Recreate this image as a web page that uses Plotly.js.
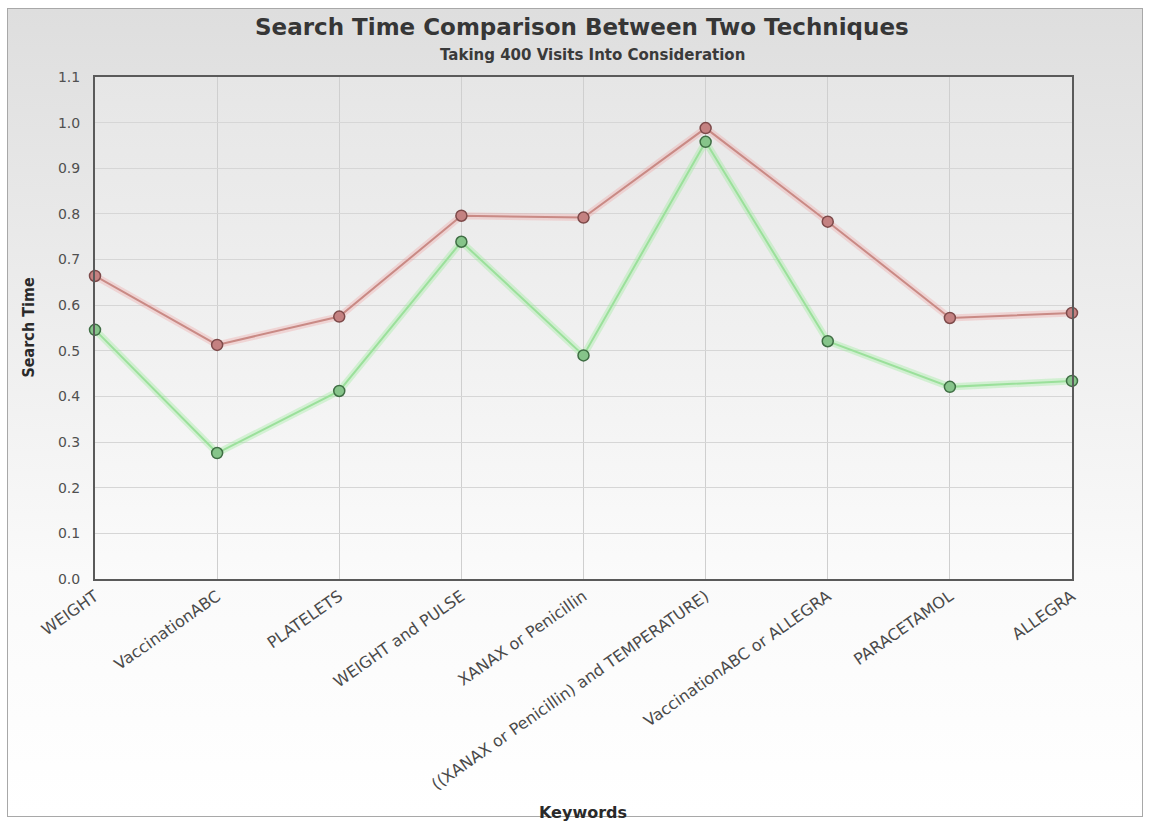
<!DOCTYPE html>
<html>
<head>
<meta charset="utf-8">
<script src="https://cdn.plot.ly/plotly-3.0.1.min.js"></script>
<style>
  html, body { margin: 0; padding: 0; background: #ffffff; }
  #wrap { position: relative; width: 1150px; height: 821px; overflow: hidden; }
  #frame { position: absolute; left: 7px; top: 8px; width: 1136px; height: 809px;
           border: 1px solid #a8a8a8; box-sizing: border-box;
           background: linear-gradient(to bottom, #dedede 0%, #ececec 35%, #fafafa 70%, #ffffff 100%); }
  #plotbg { position: absolute; left: 95px; top: 77px; width: 977px; height: 502px;
            background: linear-gradient(to bottom, #e6e6e6 0%, #f0f0f0 50%, #fbfbfb 100%); }
  #chart { position: absolute; left: 0; top: 0; width: 1150px; height: 821px; }
</style>
</head>
<body>
<div id="wrap">
  <div id="frame"></div>
  <div id="plotbg"></div>
  <div id="chart"></div>
</div>
<script>
const keywords = [
  "WEIGHT",
  "VaccinationABC",
  "PLATELETS",
  "WEIGHT and PULSE",
  "XANAX or Penicillin",
  "((XANAX or Penicillin) and TEMPERATURE)",
  "VaccinationABC or ALLEGRA",
  "PARACETAMOL",
  "ALLEGRA"
];
const techniqueA = [0.664, 0.513, 0.575, 0.796, 0.792, 0.988, 0.783, 0.572, 0.583];
const techniqueB = [0.546, 0.276, 0.412, 0.739, 0.490, 0.958, 0.521, 0.421, 0.434];
const yTicks = [0.0, 0.1, 0.2, 0.3, 0.4, 0.5, 0.6, 0.7, 0.8, 0.9, 1.0, 1.1];

const haloA = { x: keywords, y: techniqueA, type: 'scatter', mode: 'lines',
  line: { color: 'rgba(240,150,150,0.3)', width: 7 }, hoverinfo: 'skip', showlegend: false };
const haloB = { x: keywords, y: techniqueB, type: 'scatter', mode: 'lines',
  line: { color: 'rgba(150,235,150,0.35)', width: 7 }, hoverinfo: 'skip', showlegend: false };
const lineA = { x: keywords, y: techniqueA, type: 'scatter', mode: 'lines+markers', name: 'Technique A',
  line: { color: '#c98a85', width: 2 },
  marker: { size: 11, color: '#c48181', line: { color: '#7d4a4a', width: 1.5 } },
  cliponaxis: false, showlegend: false };
const lineB = { x: keywords, y: techniqueB, type: 'scatter', mode: 'lines+markers', name: 'Technique B',
  line: { color: '#9be09b', width: 2 },
  marker: { size: 11, color: '#86c48a', line: { color: '#3f6e44', width: 1.5 } },
  cliponaxis: false, showlegend: false };

const F = 'DejaVu Sans, Verdana, sans-serif';

const layout = {
  width: 1150, height: 821,
  margin: { l: 95, r: 78, t: 77, b: 242 },
  paper_bgcolor: 'rgba(0,0,0,0)',
  plot_bgcolor: 'rgba(0,0,0,0)',
  showlegend: false,
  title: { text: '<b>Search Time Comparison Between Two Techniques</b>',
    font: { family: F, size: 23, color: '#363636' },
    x: 0.506, xref: 'container', xanchor: 'center', y: 0.967, yref: 'container', yanchor: 'middle' },
  xaxis: {
    type: 'category', range: [0, keywords.length - 1],
    tickangle: -35, tickfont: { family: F, size: 16, color: '#4a4a4a' },
    showgrid: true, gridcolor: '#cfcfcf', gridwidth: 1,
    showline: true, linecolor: '#5a5a5a', linewidth: 2, mirror: true,
    ticks: '', zeroline: false
  },
  yaxis: {
    range: [0, 1.1], tickvals: yTicks, tickformat: '.1f',
    tickfont: { family: F, size: 14, color: '#505050' },
    ticklabelstandoff: 10,
    showgrid: true, gridcolor: '#d6d6d6', gridwidth: 1,
    showline: true, linecolor: '#5a5a5a', linewidth: 2, mirror: true,
    ticks: '', zeroline: false
  },
  annotations: [
    { text: '<b>Taking 400 Visits Into Consideration</b>', xref: 'paper', yref: 'paper',
      x: 0.509, y: 1.043, xanchor: 'center', yanchor: 'middle', showarrow: false,
      font: { family: F, size: 15, color: '#3a3a3a' } },
    { text: '<b>Search Time</b>', xref: 'paper', yref: 'paper', textangle: -90,
      x: -0.069, y: 0.5, xanchor: 'center', yanchor: 'middle', showarrow: false,
      font: { family: 'Liberation Sans Narrow, DejaVu Sans Condensed, Arial Narrow, sans-serif', size: 16, color: '#2a2a2a' } },
    { text: '<b>Keywords</b>', xref: 'paper', yref: 'paper',
      x: 0.499, y: -0.466, xanchor: 'center', yanchor: 'middle', showarrow: false,
      font: { family: F, size: 16, color: '#2a2a2a' } }
  ]
};

Plotly.newPlot('chart', [haloA, haloB, lineA, lineB], layout, { displayModeBar: false, staticPlot: true });
</script>
</body>
</html>
